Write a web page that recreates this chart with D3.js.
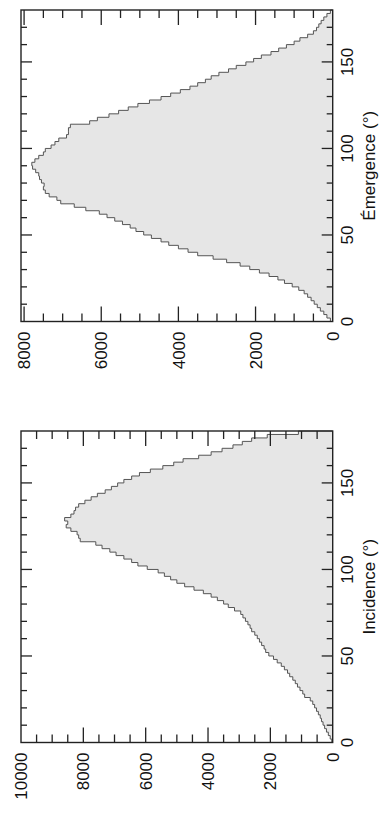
<!DOCTYPE html>
<html>
<head>
<meta charset="utf-8">
<script src="https://cdn.jsdelivr.net/npm/d3@7"></script>
<style>
  html, body { margin: 0; padding: 0; background: #fff; }
  svg { display: block; }
  text { font-family: "Liberation Sans", Arial, Helvetica, sans-serif; fill: #111; }
</style>
</head>
<body>
<svg id="chart" width="382" height="821"></svg>
<script>
// ---- data ----
const binWidth = 2; // degrees
const binStarts = d3.range(0, 180, binWidth);

const emergenceCounts = [
  60, 150, 230, 320, 400, 480, 560, 650, 740, 880,
  1050, 1250, 1420, 1650, 1900, 2150, 2400, 2750, 3100, 3500,
  3750, 4000, 4250, 4450, 4700, 4900, 5100, 5250, 5450, 5650,
  5850, 6050, 6400, 6700, 7050, 7150, 7350, 7450, 7500, 7480,
  7550, 7600, 7620, 7700, 7780, 7800, 7720, 7620, 7500, 7450,
  7300, 7200, 7100, 6900, 6850, 6850, 6800, 6300, 6100, 5800,
  5550, 5300, 5050, 4750, 4450, 4200, 3950, 3700, 3500, 3300,
  3150, 2950, 2700, 2500, 2250, 2050, 1850, 1600, 1400, 1200,
  1000, 850, 650, 500, 420, 360, 300, 230, 150, 60
];

const incidenceCounts = [
  30, 80, 140, 200, 260, 310, 360, 400, 460, 520,
  580, 640, 720, 900, 960, 1050, 1130, 1200, 1280, 1380,
  1450, 1550, 1650, 1780, 1900, 2050, 2150, 2200, 2280, 2350,
  2420, 2500, 2600, 2650, 2720, 2800, 2880, 2950, 3150, 3350,
  3500, 3700, 3900, 4150, 4450, 4750, 5000, 5200, 5400, 5600,
  5950, 6250, 6450, 6700, 6950, 7150, 7400, 7600, 8100, 8150,
  8200, 8400, 8550, 8500, 8600, 8400, 8300, 8250, 8150, 7950,
  7750, 7550, 7300, 7100, 6900, 6700, 6450, 6200, 5850, 5450,
  5100, 4800, 4300, 3900, 3550, 3200, 2900, 2600, 2100, 1100
];

const angleTickLabels = [0, 50, 100, 150];
const emergenceCountTicks = [0, 2000, 4000, 6000, 8000];
const incidenceCountTicks = [0, 2000, 4000, 6000, 8000, 10000];

const panels = [
  { title: "Émergence (°)", counts: emergenceCounts, maxCount: 8080, countTicks: emergenceCountTicks, left: 21, bottom: 321.5 },
  { title: "Incidence (°)", counts: incidenceCounts, maxCount: 10000, countTicks: incidenceCountTicks, left: 21, bottom: 742.5 }
];

// ---- drawing ----
const svg = d3.select("#chart");
const W = 311.5;   // angle axis length (vertical on screen)
const H = 311.7;   // count axis length (horizontal on screen)
const fontSize = 17;

panels.forEach(p => {
  // Draw in an unrotated frame, then rotate -90deg so angles run upward.
  const g = svg.append("g").attr("transform", `translate(${p.left},${p.bottom}) rotate(-90)`);
  const x = d3.scaleLinear().domain([0, 180]).range([0, W]);
  const y = d3.scaleLinear().domain([0, p.maxCount]).range([H, 0]);

  const pts = [];
  binStarts.forEach((a, i) => {
    pts.push({ a: a, c: p.counts[i] });
    pts.push({ a: a + binWidth, c: p.counts[i] });
  });
  const full = [{ a: 0, c: 0 }].concat(pts, [{ a: 180, c: 0 }]);

  g.append("path")
    .datum(pts)
    .attr("d", d3.area().x(d => x(d.a)).y0(y(0)).y1(d => y(d.c)))
    .attr("fill", "#e6e6e6");

  g.append("path")
    .datum(full)
    .attr("d", d3.line().x(d => x(d.a)).y(d => y(d.c)))
    .attr("fill", "none")
    .attr("stroke", "#555")
    .attr("stroke-width", 1);

  // angle ticks (bottom & top of unrotated frame), inward
  const angleMinor = d3.range(10, 180, 10);
  angleMinor.forEach(a => {
    const major = a % 50 === 0;
    const len = major ? 11 : 6;
    g.append("line").attr("x1", x(a)).attr("x2", x(a)).attr("y1", H).attr("y2", H - len)
      .attr("stroke", "#222").attr("stroke-width", 1.3);
    g.append("line").attr("x1", x(a)).attr("x2", x(a)).attr("y1", 0).attr("y2", len)
      .attr("stroke", "#222").attr("stroke-width", 1.3);
  });

  // count ticks (left & right of unrotated frame), inward
  const countMinor = d3.range(500, p.maxCount, 500);
  countMinor.forEach(c => {
    const major = c % 2000 === 0;
    const len = major ? 15 : 8;
    g.append("line").attr("x1", 0).attr("x2", len).attr("y1", y(c)).attr("y2", y(c))
      .attr("stroke", "#222").attr("stroke-width", 1.3);
    g.append("line").attr("x1", W).attr("x2", W - len).attr("y1", y(c)).attr("y2", y(c))
      .attr("stroke", "#222").attr("stroke-width", 1.3);
  });

  // frame
  g.append("rect").attr("x", 0).attr("y", 0).attr("width", W).attr("height", H)
    .attr("fill", "none").attr("stroke", "#222").attr("stroke-width", 1.4);

  // angle tick labels
  g.selectAll("text.al").data(angleTickLabels).enter().append("text")
    .attr("class", "al")
    .attr("x", d => x(d)).attr("y", H + 20)
    .attr("text-anchor", "middle")
    .attr("font-size", fontSize)
    .text(d => d);

  // count tick labels
  g.selectAll("text.cl").data(p.countTicks).enter().append("text")
    .attr("class", "cl")
    .attr("x", -10).attr("y", d => y(d))
    .attr("dy", "0.36em")
    .attr("text-anchor", "end")
    .attr("font-size", fontSize)
    .text(d => d);

  // axis title
  g.append("text")
    .attr("x", W / 2).attr("y", H + 42)
    .attr("text-anchor", "middle")
    .attr("font-size", fontSize)
    .text(p.title);
});
</script>
</body>
</html>
